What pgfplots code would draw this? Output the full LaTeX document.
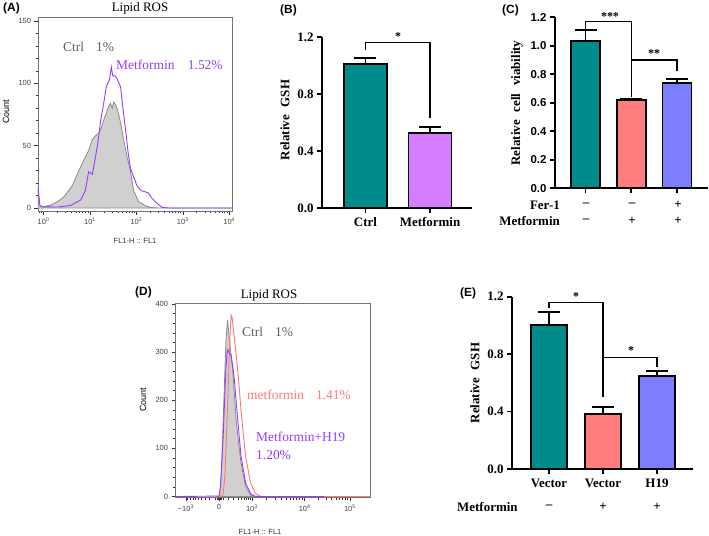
\documentclass[border=0pt]{standalone}
\usepackage{pgfplots}
\pgfplotsset{compat=1.18}
\usepackage{fontspec}
\setmainfont{Liberation Serif}
\newfontfamily\arial{Liberation Sans}
\definecolor{cteal}{RGB}{0,139,139}
\definecolor{cviolet}{RGB}{213,125,255}
\definecolor{csalmon}{RGB}{255,125,125}
\definecolor{cblue}{RGB}{125,125,255}
\definecolor{fpurple}{RGB}{150,60,255}
\definecolor{fpink}{RGB}{255,120,120}
\definecolor{fgray}{RGB}{140,140,140}
\definecolor{ffill}{RGB}{208,208,208}
\definecolor{ctext}{RGB}{95,95,95}

\pgfplotsset{
 flowax/.style={scale only axis, anchor=south west,
   axis line style={black!55, line width=0.6bp}, tick align=outside,
   xtick pos=bottom, ytick pos=left, major tick length=3.5bp, minor tick length=2bp,
   tick style={black!80, line width=0.6bp},
   ticklabel style={font=\arial\fontsize{7.5}{8}\selectfont, text=black!75},
   /pgf/number format/assume math mode=true},
 barax/.style={scale only axis, anchor=south west, axis x line*=bottom, axis y line*=left,
   axis line style={line width=1.8bp, -}, tick align=outside, major tick length=5bp,
   tick style={line width=1.8bp, black}, ymin=0, ymax=1.2, clip=false,
   xtick pos=bottom, ytick pos=left,
   xticklabel style={font=\fontsize{13}{14}\selectfont\bfseries, yshift=-1bp}},
 mybar/.style={ybar, /pgf/bar shift=0pt, draw=black, line width=1.8bp,
   /pgfplots/error bars/y dir=plus, /pgfplots/error bars/y explicit,
   /pgfplots/error bars/error bar style={line width=1.8bp, black},
   /pgfplots/error bars/error mark options={rotate=90, mark size=11bp, line width=1.8bp, black}},
}

\begin{document}
\begin{tikzpicture}
\useasboundingbox (0,0) rectangle (709bp,-536bp);

% ---------------- Panel A ----------------
\begin{axis}[flowax, at={(38bp,-211bp)}, width=194bp, height=194bp,
  xmin=-0.12, xmax=4.06, ymin=-2.4, ymax=153.2,
  xtick={0,1,2,3,4},
  xticklabels={10\textsuperscript{0},10\textsuperscript{1},10\textsuperscript{2},10\textsuperscript{3},10\textsuperscript{4}},
  minor xtick={-0.097,-0.046,0.301,0.477,0.602,0.699,0.778,0.845,0.903,0.954,1.301,1.477,1.602,1.699,1.778,1.845,1.903,1.954,2.301,2.477,2.602,2.699,2.778,2.845,2.903,2.954,3.301,3.477,3.602,3.699,3.778,3.845,3.903,3.954},
  ytick={0,50,100,150}, minor y tick num=4]
\addplot[draw=fgray, fill=ffill, line width=0.8bp] table {
x y
-0.12 17
-0.09 2
0.00 1
0.15 2.4
0.30 5
0.44 9
0.62 18
0.76 30
0.90 41
0.97 46
1.05 55
1.12 58
1.19 60
1.25 65
1.29 70
1.35 76
1.40 81
1.44 84
1.48 80
1.51 85
1.55 83
1.59 79
1.65 70
1.70 60
1.75 50
1.80 41
1.87 30
1.94 14
2.05 5
2.19 2
2.30 0.5
2.50 0
4.06 0
} \closedcycle;
\addplot[draw=fpurple, line width=0.9bp] table {
x y
-0.12 17
-0.08 2
-0.04 1
0.30 0.8
0.58 2
0.80 6.4
0.90 14
0.97 29
1.05 27
1.12 41
1.18 55
1.23 70
1.30 85
1.35 97
1.42 103
1.46 113
1.49 106
1.54 106
1.58 104
1.66 97
1.71 80
1.76 65
1.82 45
1.87 32
1.94 25
2.01 18
2.10 14
2.19 13
2.26 12
2.33 8
2.41 5
2.55 0.5
2.70 0
4.06 0
};
\end{axis}

% ---------------- Panel D ----------------
\begin{axis}[flowax, at={(175bp,-497.5bp)}, width=195bp, height=194.5bp,
  xmin=-1.33, xmax=4.58, ymin=-2, ymax=402,
  xtick={-1,0,1,2.6,3.97},
  xticklabels={−10\textsuperscript{3},0,10\textsuperscript{3},10\textsuperscript{4},10\textsuperscript{5}},
  minor xtick={-0.95,-0.87,-0.78,-0.70,-0.62,-0.52,-0.42,-0.28,-0.12,-0.06,-0.03,0.03,0.06,0.12,0.28,0.45,0.58,0.68,0.77,0.84,0.9,0.95,1.45,1.72,1.90,2.05,2.17,2.27,2.35,2.43,2.52,3.01,3.25,3.42,3.55,3.66,3.75,3.83,3.90},
  ytick={0,100,200,300,400}, minor y tick num=4]
\addplot[draw=fgray, fill=ffill, line width=0.8bp] table {
x y
-0.05 0
0.00 0
0.03 5
0.08 56
0.15 195
0.21 319
0.26 367
0.30 340
0.36 300
0.42 263
0.52 160
0.60 110
0.67 70
0.81 21
0.96 3
1.10 0
} \closedcycle;
\addplot[draw=fpink, line width=0.9bp] table {
x y
0.00 0
0.12 2
0.18 40
0.23 125
0.30 263
0.34 340
0.37 377
0.40 372
0.45 340
0.52 298
0.60 240
0.67 180
0.74 130
0.81 84
0.96 28
1.11 6
1.25 0.5
1.40 0
4.58 0
};
\addplot[draw=fpurple, line width=0.9bp] table {
x y
-1.33 0
0.00 1
0.05 20
0.13 125
0.21 263
0.25 300
0.27 305
0.31 298
0.37 294
0.42 270
0.47 242
0.57 160
0.67 84
0.81 28
0.96 6
1.10 0.5
1.30 0
3.20 0
};
\end{axis}

% ---------------- Panel B ----------------
\begin{axis}[barax, at={(322bp,-208bp)}, width=150bp, height=171bp,
  xmin=-0.674, xmax=1.651, xtick={0,1}, xticklabels={Ctrl,Metformin},
  ytick={0,0.4,0.8,1.2}, yticklabels={0.0,0.4,0.8,1.2},
  yticklabel style={font=\fontsize{13}{14}\selectfont\bfseries}]
\addplot[fill=cteal, bar width=0.667, mybar] coordinates {(0,1.01) +- (0,0.045)};
\addplot[fill=cviolet, bar width=0.667, mybar] coordinates {(1,0.526) +- (0,0.045)};
\draw[line width=1.5bp] (axis cs:0,1.11) |- (axis cs:1,1.163) -- (axis cs:1,0.63);
\end{axis}

% ---------------- Panel C ----------------
\begin{axis}[barax, at={(555bp,-188.3bp)}, width=153bp, height=171bp,
  xmin=-0.667, xmax=2.678, xtick={0,1,2}, xticklabels={},
  ytick={0,0.2,0.4,0.6,0.8,1.0,1.2}, yticklabels={0.0,0.2,0.4,0.6,0.8,1.0,1.2},
  yticklabel style={font=\arial\fontsize{11.5}{12}\selectfont\bfseries}]
\addplot[fill=cteal, bar width=0.634, mybar] coordinates {(0,1.036) +- (0,0.075)};
\addplot[fill=csalmon, bar width=0.634, mybar] coordinates {(1,0.622) +- (0,0.004)};
\addplot[fill=cblue, bar width=0.634, mybar] coordinates {(2,0.741) +- (0,0.024)};
\draw[line width=1.5bp] (axis cs:0,1.12) |- (axis cs:1,1.169) -- (axis cs:1,0.643);
\draw[line width=1.5bp] (axis cs:1,0.90) -| (axis cs:2,0.82);
\end{axis}

% ---------------- Panel E ----------------
\begin{axis}[barax, at={(512bp,-469bp)}, width=181bp, height=172.3bp,
  xmin=-0.685, xmax=2.667, xtick={0,1,2}, xticklabels={Vector,Vector,H19},
  ytick={0,0.4,0.8,1.2}, yticklabels={0.0,0.4,0.8,1.2},
  yticklabel style={font=\fontsize{13}{14}\selectfont\bfseries}]
\addplot[fill=cteal, bar width=0.667, mybar] coordinates {(0,1.003) +- (0,0.088)};
\addplot[fill=csalmon, bar width=0.667, mybar] coordinates {(1,0.381) +- (0,0.053)};
\addplot[fill=cblue, bar width=0.667, mybar] coordinates {(2,0.648) +- (0,0.034)};
\draw[line width=1.5bp] (axis cs:0,1.12) |- (axis cs:1,1.158) -- (axis cs:1,0.503);
\draw[line width=1.5bp] (axis cs:1,0.778) -| (axis cs:2,0.712);
\end{axis}

% ---------------- Texts ----------------
\begin{scope}[x=1bp, y=1bp, every node/.style={inner sep=0pt}]
% A
\node[anchor=west, font=\arial\bfseries\fontsize{12}{13}\selectfont] at (3,-8) {(A)};
\node[font=\fontsize{13}{14}\selectfont] at (140,-8) {Lipid ROS};
\node[anchor=west, text=ctext, font=\fontsize{13.5}{14}\selectfont] at (63,-47) {Ctrl\hspace{0.9em}1\%};
\node[anchor=west, text=fpurple, font=\fontsize{13.5}{14}\selectfont] at (116,-65) {Metformin\hspace{1em}1.52\%};
\node[rotate=90, font=\arial\fontsize{9}{10}\selectfont] at (6,-112) {Count};
\node[font=\arial\fontsize{7.5}{8}\selectfont, text=black!80] at (135,-241) {FL1-H :: FL1};
% B
\node[anchor=west, font=\arial\bfseries\fontsize{12}{13}\selectfont] at (280,-10) {(B)};
\node[rotate=90, font=\fontsize{13}{14}\selectfont\bfseries] at (285,-120) {Relative\hspace{0.35em} GSH};
\node[font=\fontsize{12}{12}\selectfont\bfseries] at (398,-37) {*};
% C
\node[anchor=west, font=\arial\bfseries\fontsize{12}{13}\selectfont] at (502,-10) {(C)};
\node[rotate=90, font=\fontsize{13}{14}\selectfont\bfseries] at (517,-103) {Relative\hspace{0.35em} cell\hspace{0.35em} viability};
\node[font=\fontsize{12}{12}\selectfont\bfseries] at (610,-17) {***};
\node[font=\fontsize{12}{12}\selectfont\bfseries] at (654,-54) {**};
\node[anchor=east, font=\fontsize{13}{14}\selectfont\bfseries] at (560,-205) {Fer-1};
\node[anchor=east, font=\fontsize{13}{14}\selectfont\bfseries] at (560,-221) {Metformin};
\node[font=\fontsize{13}{14}\selectfont\bfseries] at (586,-205) {–};
\node[font=\fontsize{13}{14}\selectfont\bfseries] at (632,-205) {–};
\node[font=\fontsize{13}{14}\selectfont\bfseries] at (678,-205) {+};
\node[font=\fontsize{13}{14}\selectfont\bfseries] at (586,-221) {–};
\node[font=\fontsize{13}{14}\selectfont\bfseries] at (632,-221) {+};
\node[font=\fontsize{13}{14}\selectfont\bfseries] at (678,-221) {+};
% D
\node[anchor=west, font=\arial\bfseries\fontsize{12}{13}\selectfont] at (135,-292) {(D)};
\node[font=\fontsize{13}{14}\selectfont] at (269,-295) {Lipid ROS};
\node[rotate=90, font=\arial\fontsize{9}{10}\selectfont] at (143,-400) {Count};
\node[anchor=west, text=ctext, font=\fontsize{13.5}{14}\selectfont] at (242,-332) {Ctrl\hspace{0.9em}1\%};
\node[anchor=west, text=fpink, font=\fontsize{13.5}{14}\selectfont] at (247,-395) {metformin\hspace{0.9em}1.41\%};
\node[anchor=west, text=fpurple, font=\fontsize{13.5}{14}\selectfont] at (256,-437) {Metformin+H19};
\node[anchor=west, text=fpurple, font=\fontsize{13.5}{14}\selectfont] at (256,-455) {1.20\%};
\node[font=\arial\fontsize{7.5}{8}\selectfont, text=black!80] at (260,-532) {FL1-H :: FL1};
% E
\node[anchor=west, font=\arial\bfseries\fontsize{12}{13}\selectfont] at (460,-293) {(E)};
\node[rotate=90, font=\fontsize{13}{14}\selectfont\bfseries] at (475,-383) {Relative\hspace{0.35em} GSH};
\node[font=\fontsize{12}{12}\selectfont\bfseries] at (576,-297) {*};
\node[font=\fontsize{12}{12}\selectfont\bfseries] at (631,-351) {*};
\node[anchor=west, font=\fontsize{13}{14}\selectfont\bfseries] at (457,-507) {Metformin};
\node[font=\fontsize{13}{14}\selectfont\bfseries] at (549,-507) {–};
\node[font=\fontsize{13}{14}\selectfont\bfseries] at (603,-507) {+};
\node[font=\fontsize{13}{14}\selectfont\bfseries] at (657,-507) {+};
\end{scope}
\end{tikzpicture}
\end{document}
